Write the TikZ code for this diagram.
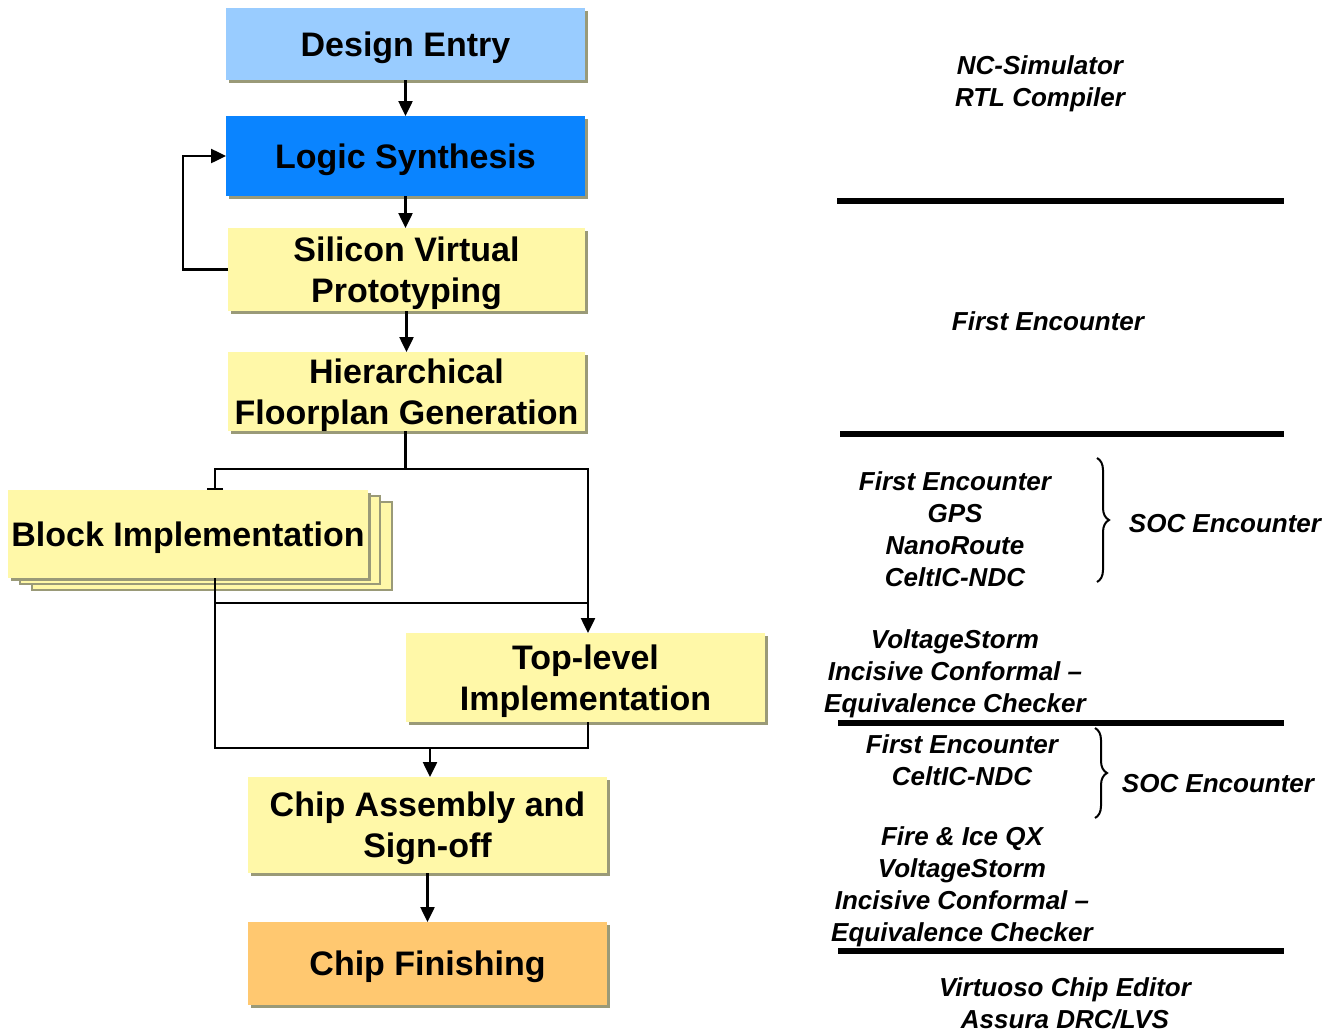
\documentclass[tikz,border=0pt]{standalone}
\usepackage{fontspec}
\setmainfont{Liberation Sans}
\usetikzlibrary{calc, shadows, arrows.meta, decorations.pathreplacing}
\definecolor{entryblue}{HTML}{99CCFF}
\definecolor{synthblue}{HTML}{0A84FF}
\definecolor{stepyellow}{HTML}{FFF8A8}
\definecolor{finishorange}{HTML}{FFC870}
\definecolor{edgegray}{HTML}{9A9A78}

\begin{document}
\begin{tikzpicture}[x=1pt, y=-1pt,
    flowbox/.style={minimum width=359pt, inner sep=0pt, outer sep=0pt, align=center, text depth=0pt,
        font=\bfseries\fontsize{34}{41}\selectfont,
        drop shadow={shadow xshift=2.5pt, shadow yshift=-2.5pt, opacity=1, fill=edgegray}},
    stackbox/.style={copy shadow={shadow xshift=24pt, shadow yshift=-12pt, fill=stepyellow, draw=edgegray, line width=1.5pt},
        copy shadow={shadow xshift=12pt, shadow yshift=-6pt, fill=stepyellow, draw=edgegray, line width=1.5pt},
        flowbox, fill=stepyellow},
    link/.style={line width=2.5pt},
    arr/.style={link, -{Triangle[width=14pt, length=15pt]}},
    tool/.style={align=center, font=\bfseries\itshape\fontsize{26}{32}\selectfont},
    sep/.style={line width=6pt},
    curly/.style={line width=2pt, decorate, decoration={brace, amplitude=12pt}}]
    \useasboundingbox (0,0) rectangle (1342,1034);
    %the flow boxes
    \node[flowbox, fill=entryblue, minimum height=72pt] (design) at (405.5,44) {Design Entry};
    \node[flowbox, fill=synthblue, minimum height=80pt] (logic) at (405.5,156) {Logic Synthesis};
    \node[flowbox, fill=stepyellow, minimum width=357pt, minimum height=83pt] (svp) at (406.5,269.5) {Silicon Virtual\\Prototyping};
    \node[flowbox, fill=stepyellow, minimum width=357pt, minimum height=79pt] (floor) at (406.5,391.5) {Hierarchical\\Floorplan Generation};
    \node[stackbox, minimum width=360pt, minimum height=88pt] (block) at (188,534) {Block Implementation};
    \node[flowbox, fill=stepyellow, minimum height=89pt] (top) at (585.5,677.5) {Top-level\\Implementation};
    \node[flowbox, fill=stepyellow, minimum height=96pt] (chip) at (427.5,825) {Chip Assembly and\\Sign-off};
    \node[flowbox, fill=finishorange, minimum height=83pt] (finish) at (427.5,963.5) {Chip Finishing};
    %the junctions
    \coordinate (split) at ($(floor.south)+(-1,38)$);
    \coordinate (blkin) at ([xshift=27pt]block.north);
    \coordinate (blkout) at ([xshift=27pt]block.south);
    \coordinate (topin) at ([xshift=2.5pt]top.north);
    \coordinate (topout) at ([xshift=2.5pt]top.south);
    \coordinate (merge) at ($(chip.north)+(2.5,-29)$);
    %the connectors
    \draw[arr] (design) -- (logic);
    \draw[arr] (logic.south) -- (logic.south |- svp.north);
    \draw[arr] (svp.west) -- ++(-45,0) |- (logic.west);
    \draw[arr] (svp.south) -- (floor.north);
    \draw[link] (split |- floor.south) -- (split);
    \draw[link, -{Bar[width=16pt]}] (split) -| (blkin);
    \draw[arr] (split) -| (topin);
    \draw[link] (blkout) |- ($(topin)+(0,-30)$);
    \draw[link] (blkout) |- (merge);
    \draw[link] (topout) |- (merge);
    \draw[arr] (merge) -- (merge |- chip.north);
    \draw[arr] (chip) -- (finish);
    %the tools
    \node[tool] (sim) at (1040,84) {NC-Simulator\\RTL Compiler};
    \node[tool] (fe) at (1048,321) {First Encounter};
    \node[tool] (impl) at (955,529) {First Encounter\\GPS\\NanoRoute\\CeltIC-NDC};
    \node[tool] (soca) at (1225,524) {SOC Encounter};
    \node[tool] (lec) at (955,674) {VoltageStorm\\Incisive Conformal --\\Equivalence Checker};
    \node[tool] (asm) at (962,760) {First Encounter\\CeltIC-NDC};
    \node[tool] (socb) at (1218,784) {SOC Encounter};
    \node[tool] (sign) at (962,887) {Fire \& Ice QX\\VoltageStorm\\Incisive Conformal --\\Equivalence Checker};
    \node[tool] (fin) at (1065,1003) {Virtuoso Chip Editor\\Assura DRC/LVS};
    %the rules and braces
    \draw[sep] (837,201) -- (1284,201);
    \draw[sep] (840,434) -- (1284,434);
    \draw[sep] (838,723) -- (1284,723);
    \draw[sep] (838,951) -- (1284,951);
    \draw[curly] (1097,458) -- (1097,582);
    \draw[curly] (1095,728) -- (1095,818);
\end{tikzpicture}
\end{document}
